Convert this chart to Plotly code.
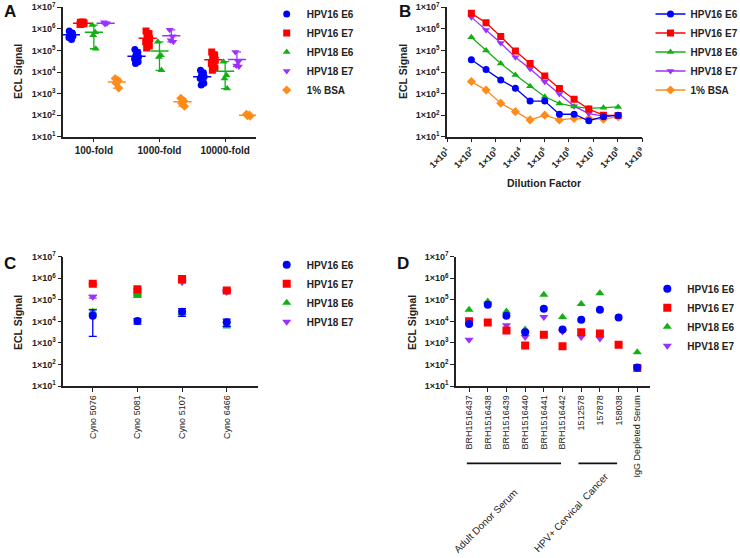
import numpy as np
import plotly.graph_objects as go

W, H = 740, 558
FONT = "Liberation Sans, Arial, sans-serif"

series_names = ["HPV16 E6", "HPV16 E7", "HPV18 E6", "HPV18 E7", "1% BSA"]
colors = ["#0000FF", "#FF0000", "#12B012", "#9B30FF", "#FF8C1A"]
symbols = ["circle", "square", "triangle-up", "triangle-down", "diamond"]

# ---------------- Panel A data ----------------
A_categories = ["100-fold", "1000-fold", "10000-fold"]
A_hpv16_e6 = [[8e5, 6.5e5, 5.5e5, 4.5e5, 4e5, 3.2e5, 6e5, 5e5],
              [1.1e5, 8e4, 6e4, 5e4, 4e4, 3.5e4, 3e4, 2.5e4],
              [1.2e4, 9e3, 7e3, 6e3, 5e3, 4e3, 3e3, 2.5e3]]
A_hpv16_e7 = [[2.0e6, 1.8e6, 1.7e6, 1.9e6, 1.6e6, 2.1e6, 1.75e6, 1.85e6],
              [8e5, 6e5, 4.5e5, 3.5e5, 2.5e5, 2e5, 1.6e5, 1.3e5],
              [8.5e4, 6e4, 4.5e4, 3.5e4, 2.5e4, 2e4, 1.5e4, 1.2e4]]
A_hpv18_e6 = [[1.5e6, 7e5, 5e5, 1.2e5],
              [2.5e5, 6e4, 5e4, 1.2e4],
              [3e4, 7e3, 5e3, 1.7e3]]
A_hpv18_e7 = [[2.0e6, 1.8e6, 1.7e6],
              [9e5, 4.5e5, 3e5, 2.5e5],
              [8.5e4, 3e4, 2e4, 1.8e4]]
A_bsa = [[5e3, 4e3, 3e3, 1.8e3],
         [600, 450, 350, 260],
         [110, 100, 95, 90]]
A_all = [A_hpv16_e6, A_hpv16_e7, A_hpv18_e6, A_hpv18_e7, A_bsa]

# ---------------- Panel B data ----------------
B_dilution = [100, 400, 1600, 6400, 25600, 102400, 409600, 1638400,
              6553600, 26214400, 104857600]
B_hpv16_e6 = [3.7e4, 1.3e4, 4.3e3, 1.75e3, 450, 450, 110, 110, 55, 85, 100]
B_hpv16_e7 = [5.3e6, 1.9e6, 4.4e5, 9.3e4, 2.5e4, 6.5e3, 1.7e3, 540, 190, 100, 95]
B_hpv18_e6 = [4.1e5, 9.8e4, 2.5e4, 7.2e3, 2.2e3, 710, 350, 250, 205, 220, 240]
B_hpv18_e7 = [3.5e6, 8.9e5, 2.2e5, 4.8e4, 1.4e4, 3.5e3, 960, 260, 118, 90, 100]
B_bsa = [3.6e3, 1.45e3, 360, 145, 60, 100, 60, 70, 70, 65, 85]
B_all = [B_hpv16_e6, B_hpv16_e7, B_hpv18_e6, B_hpv18_e7, B_bsa]

# ---------------- Panel C data ----------------
C_categories = ["Cyno 5076", "Cyno 5081", "Cyno 5107", "Cyno 6466"]
C_mean = [[1.8e4, 1.05e4, 2.8e4, 9.2e3],
          [5.5e5, 3.1e5, 9.3e5, 2.7e5],
          [2.8e4, 1.55e5, 2.5e4, 7e3],
          [1.4e5, 1.8e5, 6.5e5, 2.3e5]]
C_sd = [[1.6e4, 3e3, 1.1e4, 3.5e3],
        [5e4, 3e4, 8e4, 3e4],
        [8e3, 2e4, 5e3, 2e3],
        [2e4, 2e4, 6e4, 2e4]]

# ---------------- Panel D data ----------------
D_categories = ["BRH1516437", "BRH1516438", "BRH1516439", "BRH1516440",
                "BRH1516441", "BRH1516442", "1512578", "157878", "158038",
                "IgG Depleted Serum"]
D_hpv16_e6 = [7.6e3, 5.9e4, 1.8e4, 3.1e3, 3.8e4, 4.2e3, 1.2e4, 3.5e4, 1.5e4, 72]
D_hpv16_e7 = [1e4, 8.9e3, 3.8e3, 760, 2.4e3, 700, 3.1e3, 2.7e3, 830, 68]
D_hpv18_e6 = [3.5e4, 8.3e4, 2.9e4, 4.2e3, 1.7e5, 1.6e4, 6.3e4, 2e5, None, 370]
D_hpv18_e7 = [1.4e3, 6.7e4, 6.6e3, 1.9e3, 1.6e4, 3.4e3, 1.9e3, 1.6e3, None, 75]
D_all = [D_hpv16_e6, D_hpv16_e7, D_hpv18_e6, D_hpv18_e7]

y_tickvals = [10 ** k for k in range(1, 8)]
y_ticktext = ["1×10<sup>%d</sup>" % k for k in range(1, 8)]
B_tickvals = [10 ** k for k in range(1, 10)]
B_ticktext = ["1×10<sup>%d</sup>" % k for k in range(1, 10)]


def dx(p):
    return p / W


def dy(p):
    return 1 - p / H


fig = go.Figure()

# ---------- Panel A ----------
offsets = [-0.35, -0.18, 0.0, 0.18, 0.35]
jit = [-0.025, 0.02, -0.01, 0.03, -0.03, 0.01, 0.025, -0.015]
for s in range(5):
    xs, ys = [], []
    for c in range(3):
        vals = A_all[s][c]
        for i, v in enumerate(vals):
            xs.append(c + offsets[s] + jit[i % len(jit)])
            ys.append(v)
    fig.add_trace(go.Scatter(
        x=xs, y=ys, mode="markers", name=series_names[s], legend="legend",
        marker=dict(symbol=symbols[s], color=colors[s], size=7, line=dict(width=0)),
        xaxis="x", yaxis="y"))
for s in range(5):
    mx = [c + offsets[s] for c in range(3)]
    means = [float(np.mean(A_all[s][c])) for c in range(3)]
    hi = [float(np.max(A_all[s][c])) - m for c, m in zip(range(3), means)]
    lo = [m - float(np.min(A_all[s][c])) for c, m in zip(range(3), means)]
    fig.add_trace(go.Scatter(
        x=mx, y=means, mode="markers", showlegend=False,
        marker=dict(symbol="line-ew", size=13, line=dict(width=1.5, color=colors[s])),
        error_y=dict(type="data", symmetric=False, array=hi, arrayminus=lo,
                     color=colors[s], thickness=1.3, width=4),
        xaxis="x", yaxis="y"))

# ---------- Panel B ----------
for s in reversed(range(5)):
    fig.add_trace(go.Scatter(
        x=B_dilution, y=B_all[s], mode="lines+markers", name=series_names[s],
        legend="legend2",
        line=dict(color=colors[s], width=1.3),
        marker=dict(symbol=symbols[s], color=colors[s], size=7),
        xaxis="x2", yaxis="y2"))

# ---------- Panel C ----------
for s in reversed(range(4)):
    fig.add_trace(go.Scatter(
        x=C_categories, y=C_mean[s], mode="markers", name=series_names[s],
        legend="legend3",
        marker=dict(symbol=symbols[s], color=colors[s], size=8),
        error_y=dict(type="data", array=C_sd[s], color=colors[s], thickness=1.3, width=4),
        xaxis="x3", yaxis="y3"))

# ---------- Panel D ----------
for s in reversed(range(4)):
    fig.add_trace(go.Scatter(
        x=D_categories, y=D_all[s], mode="markers", name=series_names[s],
        legend="legend4",
        marker=dict(symbol=symbols[s], color=colors[s], size=8),
        xaxis="x4", yaxis="y4"))

axis_common = dict(showgrid=False, zeroline=False, showline=True, linecolor="#222",
                   linewidth=1.5, ticks="outside", ticklen=4, tickwidth=1.3,
                   tickcolor="#222", automargin=False)
yfont = dict(family=FONT, size=9, color="#222", weight="bold")


def yax(domain, anchor):
    return dict(type="log", range=[1, 7], domain=domain, anchor=anchor,
                tickvals=y_tickvals, ticktext=y_ticktext, tickfont=yfont, **axis_common)


top_dom = [dy(136.7), dy(7.3)]
bot_dom = [dy(386), dy(256.7)]

fig.update_layout(
    width=W, height=H, autosize=False,
    margin=dict(l=0, r=0, t=0, b=0, pad=0, autoexpand=False),
    paper_bgcolor="white", plot_bgcolor="white",
    font=dict(family=FONT, color="#222"),
    xaxis=dict(domain=[dx(63), dx(256)], range=[-0.47, 2.47], anchor="y",
               tickvals=[0, 1, 2], ticktext=A_categories,
               tickfont=dict(family=FONT, size=10, color="#222", weight="bold"),
               **axis_common),
    yaxis=yax(top_dom, "x"),
    xaxis2=dict(type="log", domain=[dx(447), dx(642)], range=[1, 9], anchor="y2",
                tickvals=B_tickvals, ticktext=B_ticktext, tickangle=-45,
                tickfont=yfont, **axis_common),
    yaxis2=yax(top_dom, "x2"),
    xaxis3=dict(type="category", domain=[dx(63.3), dx(258)], range=[-0.66, 3.7],
                anchor="y3", categoryorder="array", categoryarray=C_categories,
                tickangle=-90, tickfont=dict(family=FONT, size=9, color="#222"),
                **axis_common),
    yaxis3=yax(bot_dom, "x3"),
    xaxis4=dict(type="category", domain=[dx(456), dx(650)], range=[-0.7, 9.68],
                anchor="y4", categoryorder="array", categoryarray=D_categories,
                tickangle=-90, tickfont=dict(family=FONT, size=9, color="#222"),
                **axis_common),
    yaxis4=yax(bot_dom, "x4"),
)

leg_font = dict(family=FONT, size=10, color="#222", weight="bold")
fig.update_layout(
    legend=dict(x=dx(266.7), y=dy(-0.5), xanchor="left", yanchor="top", font=leg_font,
                bgcolor="rgba(0,0,0,0)"),
    legend2=dict(x=dx(650.5), y=dy(-0.5), xanchor="left", yanchor="top", font=leg_font,
                 traceorder="reversed", bgcolor="rgba(0,0,0,0)"),
    legend3=dict(x=dx(266.7), y=dy(250.3), xanchor="left", yanchor="top", font=leg_font,
                 traceorder="reversed", bgcolor="rgba(0,0,0,0)"),
    legend4=dict(x=dx(647.3), y=dy(274.2), xanchor="left", yanchor="top", font=leg_font,
                 traceorder="reversed", bgcolor="rgba(0,0,0,0)"),
)

ann = []
for txt, x, y in [("A", 10, 11), ("B", 405, 11), ("C", 10, 263), ("D", 403, 263)]:
    ann.append(dict(text="<b>%s</b>" % txt, x=dx(x), y=dy(y), xref="paper", yref="paper",
                    showarrow=False, font=dict(family=FONT, size=17, color="#111"),
                    xanchor="center", yanchor="middle"))
for x, y in [(18, 72), (403, 72), (18, 323), (412, 323)]:
    ann.append(dict(text="<b>ECL Signal</b>", x=dx(x), y=dy(y), xref="paper", yref="paper",
                    showarrow=False, textangle=-90,
                    font=dict(family=FONT, size=10.5, color="#222"),
                    xanchor="center", yanchor="middle"))
ann.append(dict(text="<b>Dilution Factor</b>", x=dx(544), y=dy(183), xref="paper",
                yref="paper", showarrow=False,
                font=dict(family=FONT, size=10.5, color="#222"),
                xanchor="center", yanchor="middle"))
ann.append(dict(text="Adult Donor Serum", x=dx(485), y=dy(521), xref="paper",
                yref="paper", showarrow=False, textangle=-45,
                font=dict(family=FONT, size=10, color="#222"),
                xanchor="center", yanchor="middle"))
ann.append(dict(text="HPV+ Cervical  Cancer", x=dx(571), y=dy(512), xref="paper",
                yref="paper", showarrow=False, textangle=-47,
                font=dict(family=FONT, size=10, color="#222"),
                xanchor="center", yanchor="middle"))
fig.update_layout(annotations=ann)

fig.update_layout(shapes=[
    dict(type="line", xref="x4", yref="paper", x0=-0.12, x1=4.92, y0=dy(463.3),
         y1=dy(463.3), line=dict(color="#111", width=1.8)),
    dict(type="line", xref="x4", yref="paper", x0=5.85, x1=7.92, y0=dy(463.3),
         y1=dy(463.3), line=dict(color="#111", width=1.8)),
])

# remove the browser's default 8px page margin so the figure sits at (0, 0)
fig.write_html("out.html", config={"displayModeBar": False},
               post_script="document.body.style.margin='0';")
